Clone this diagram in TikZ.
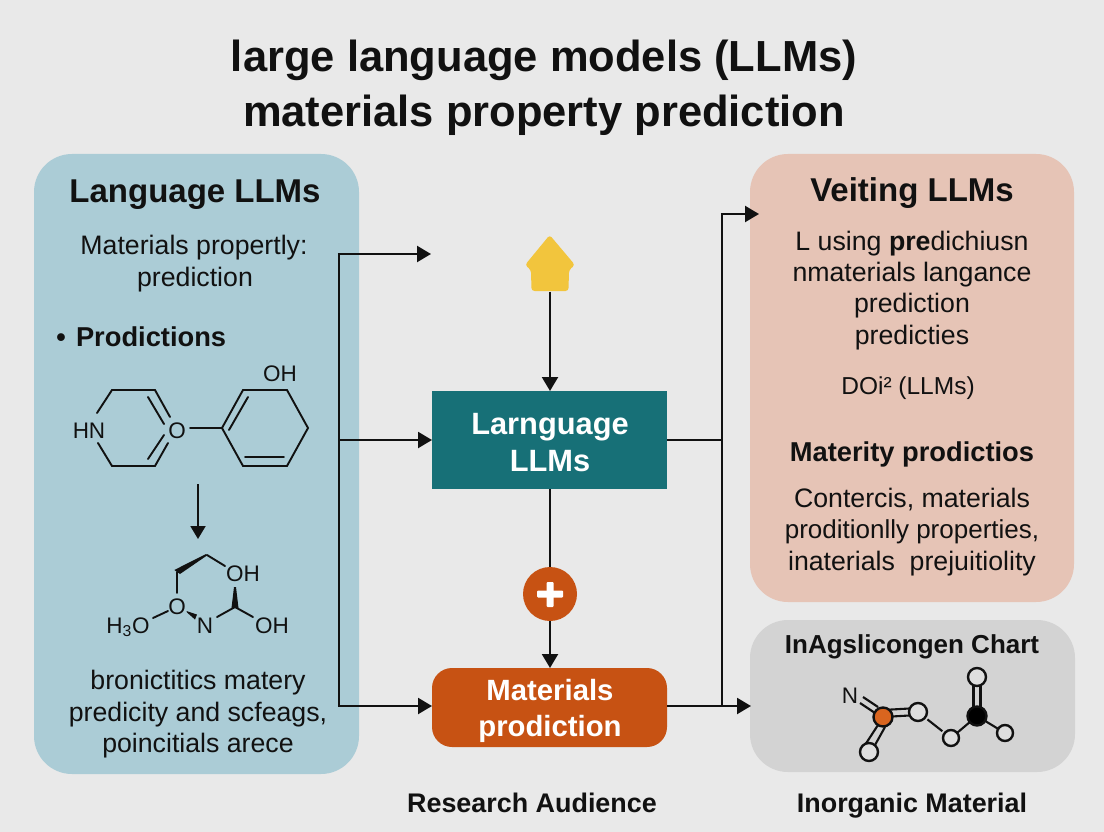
\documentclass[tikz,border=0pt]{standalone}
\usepackage{fontspec}
\setmainfont{Liberation Sans}
\usetikzlibrary{arrows.meta,calc}
\definecolor{bgc}{HTML}{E9E9E9}
\definecolor{panelblue}{HTML}{ABCCD6}
\definecolor{panelpink}{HTML}{E6C4B6}
\definecolor{panelgray}{HTML}{D3D3D3}
\definecolor{atomfill}{HTML}{DEDEDE}
\definecolor{tealbox}{HTML}{177077}
\definecolor{orangebox}{HTML}{C75213}
\definecolor{yellowhouse}{HTML}{F2C53D}
\definecolor{atomorange}{HTML}{D9651F}
\definecolor{ink}{HTML}{111111}
\newcommand{\fs}[1]{\fontsize{#1}{#1}\selectfont}
\pgfdeclarelayer{atoms}
\pgfsetlayers{main,atoms}
\tikzset{
  x=1pt,y=-1pt,
  panel/.style={inner sep=0,outer sep=0,rounded corners=38pt,anchor=north west},
  txt/.style={inner sep=0,outer sep=0,text=ink,anchor=base},
  sz/.style={txt,font=\fs{#1},yshift={-0.36*#1}},
  szb/.style={txt,font=\fs{#1}\bfseries,yshift={-0.36*#1}},
  title/.style={szb=43.5},
  head/.style={szb=33},
  sub/.style={sz=26.7},
  boxtxt/.style={szb=30.8,text=white},
  matxt/.style={szb=29.3,text=white},
  flow/.style={draw=ink,line width=2.2pt,line cap=butt,line join=miter},
  arr/.style={flow,-{Triangle[length=14pt,width=16pt]}},
  bond/.style={draw=ink,line width=1.9pt,line cap=round},
  dbl/.style={draw=ink,line width=2.1pt,line cap=butt},
  chem/.style={sz=22.5},
  atom/.style={circle,draw=ink,line width=2.4pt,fill=atomfill,inner sep=0,outer sep=0},
  wedge/.style={fill=ink,draw=none},
  capt/.style={szb=26.9},
}
\begin{document}
\begin{tikzpicture}
\useasboundingbox (0,0) rectangle (1104,832);
\fill[bgc] (0,0) rectangle (1104,832);

% titles
\node[title] (t1) at (544,56) {large language models (LLMs)};
\node[title] (t2) at (544,111) {materials property prediction};

% panels
\node[panel,fill=panelblue,minimum width=325pt,minimum height=620pt] (left) at (34,154) {};
\node[panel,fill=panelpink,minimum width=324pt,minimum height=448pt] (right) at (750,154) {};
\node[panel,fill=panelgray,minimum width=325pt,minimum height=152pt] (gray) at (750,620) {};

% left panel text
\node[head] (lh) at (195,191) {Language LLMs};
\node[sub] (l1) at (194,245) {Materials propertly:};
\node[sub] (l2) at (195,277) {prediction};
\node[szb=27] (lb) at (61,337) {•};
\node[szb=27.3,anchor=base west] (l3) at (76,337) {Prodictions};
\node[sub] (l4) at (198,680) {bronictitics matery};
\node[sub] (l5) at (198,712) {predicity and scfeags,};
\node[sub] (l6) at (198,743) {poincitials arece};

% upper molecule
\node[chem] (hn) at (89,430) {HN};
\node[chem] (ox) at (177,430) {O};
\node[chem] (oh1) at (280,373) {OH};
\draw[bond] (97,413) -- (112,390) -- (155,390) -- (170,417);
\draw[bond] (98,443) -- (112,466) -- (155,466) -- (168,443);
\draw[bond] (148,397) -- (164,424);
\draw[bond] (148,459) -- (164,435);
\draw[bond] (190,428) -- (222,428);
\draw[bond] (222,428) -- (243,390) -- (287,390) -- (308,428) -- (287,466) -- (243,466) -- cycle;
\draw[bond] (229,430) -- (248,397);
\draw[bond] (245,457) -- (284,457);

% reaction arrow
\coordinate (ra) at (198,484);
\coordinate (rb) at (198,539);
\draw[draw=ink,line width=1.9pt,-{Triangle[length=13pt,width=15pt]}] (ra) -- (rb);

% lower molecule
\node[chem] (h3o) at (128,625) {H\textsubscript{3}O};
\node[chem] (o2) at (177,606) {O};
\node[chem] (n2) at (205,625) {N};
\node[chem] (oh2) at (243,573) {OH};
\node[chem] (oh3) at (272,625) {OH};
\draw[bond] (153,618) -- (168,611);
\draw[bond] (177,593) -- (177,572);
\fill[wedge] (174.3,570) -- (180,574) -- (207,555.5) -- (206,554) -- cycle;
\draw[bond] (207,555) -- (225,566);
\fill[wedge] (186.5,611) -- (187,612.5) -- (195,619.5) -- (197,614.5) -- cycle;
\draw[bond] (217,617) -- (235,607) -- (253,617);
\fill[wedge] (231.5,608) -- (238.5,608) -- (236,587) -- (234,587) -- cycle;

% right panel text
\node[head] (rh) at (912,190) {Veiting LLMs};
\node[sub] (r1) at (912,241) {L using \textbf{pre}dichiusn};
\node[sub] (r2) at (912,272) {nmaterials langance};
\node[sub] (r3) at (912,303) {prediction};
\node[sub] (r4) at (912,335) {predicties};
\node[sz=24.5] (r5) at (908,386) {DOi² (LLMs)};
\node[szb=27.3] (r6) at (912,452) {Materity prodictios};
\node[sub] (r7) at (912,498) {Contercis, materials};
\node[sz=26] (r8) at (912,529) {proditionlly properties,};
\node[sub] (r9) at (912,561) {inaterials\ \ prejuitiolity};

% gray panel
\node[szb=26] (gh) at (912,644) {InAgslicongen Chart};
\node[chem] (gn) at (850,695) {N};
\begin{pgfonlayer}{atoms}
\node[atom,minimum size=19pt,fill=atomorange] (a1) at (883,717) {};
\node[atom,minimum size=18pt] (a2) at (918,712) {};
\node[atom,minimum size=18pt] (a3) at (869,752) {};
\node[atom,minimum size=16pt] (a4) at (951,738) {};
\node[atom,minimum size=19pt,fill=black] (a5) at (977,716) {};
\node[atom,minimum size=18pt] (a6) at (977,677) {};
\node[atom,minimum size=16pt] (a7) at (1005,733) {};
\end{pgfonlayer}
\draw[dbl] ($(a1)+(0,-7)$) -- ($(a2)+(0,-4)$);
\draw[dbl] ($(a1)+(0,0)$) -- ($(a2)+(0,3)$);
\draw[dbl] ($(a1)+(-5,8)$) -- ($(a3)+(-4,-7)$);
\draw[dbl] ($(a1)+(2,10)$) -- ($(a3)+(6,-7)$);
\draw[dbl] ($(a5)+(-3.5,0)$) -- ($(a6)+(-3.5,0)$);
\draw[dbl] ($(a5)+(3.5,0)$) -- ($(a6)+(3.5,0)$);
\draw[dbl] (863,697) -- (878,707);
\draw[dbl] (860,703) -- (875,713);
\draw[dbl,shorten <=3pt,shorten >=3pt] (a2) -- (a4);
\draw[dbl] (a4) -- (a5);
\draw[dbl] (a5) -- (a7);

% centre shapes
\node[inner sep=0,outer sep=0,minimum width=235pt,minimum height=98pt,fill=tealbox,anchor=north west] (lang) at (432,391) {};
\node[boxtxt] (lt1) at (550,423) {Larnguage};
\node[boxtxt] (lt2) at (550,460) {LLMs};
\node[inner sep=0,outer sep=0,minimum width=235pt,minimum height=79pt,fill=orangebox,rounded corners=20pt,anchor=north west] (mat) at (432,668) {};
\node[matxt] (mt1) at (550,690) {Materials};
\node[matxt] (mt2) at (550,726) {prodiction};
\node[circle,fill=orangebox,minimum size=54pt,inner sep=0,outer sep=0] (plus) at (550,594) {};
\fill[white,rounded corners=1pt] (537,590.5) rectangle (563,597.5);
\fill[white,rounded corners=1pt] (546.5,582) rectangle (553.5,607);
\node[inner sep=0,outer sep=0,minimum size=1pt] (house) at (550,291) {};
\fill[yellowhouse,rounded corners=3pt] (549.7,235) -- (575,265) -- (569,270) -- (568.5,291) -- (531.5,291) -- (531,270) -- (525,265) -- cycle;

% flow connectors
\coordinate (sl) at (339,706);
\coordinate (sltop) at (339,254);
\coordinate (slmid) at (339,440);
\coordinate (fr1) at (431,254);
\draw[flow] (sltop) -- (sl);
\draw[arr] ([xshift=-1.1pt]sltop) -- (fr1);
\draw[arr] (slmid) -- (lang.west |- slmid);
\draw[arr] ([xshift=-1.1pt]sl) -- (mat.west |- sl);
\draw[arr] (house.south) -- (lang.north -| house);
\draw[flow] (lang.south -| plus) -- (plus.north);
\draw[arr] (plus.south) -- (mat.north -| plus);

\coordinate (sr) at (722,706);
\coordinate (srtop) at (722,214);
\coordinate (srmid) at (722,440);
\coordinate (fr2) at (759,214);
\coordinate (fr3) at (751,706);
\draw[flow] (srtop) -- (sr);
\draw[arr] ([xshift=-1.1pt]srtop) -- (fr2);
\draw[flow] (lang.east |- srmid) -- (srmid);
\draw[arr] (mat.east |- sr) -- (fr3);

% captions
\node[capt] (c1) at (532,803) {Research Audience};
\node[capt] (c2) at (912,803) {Inorganic Material};
\end{tikzpicture}
\end{document}
